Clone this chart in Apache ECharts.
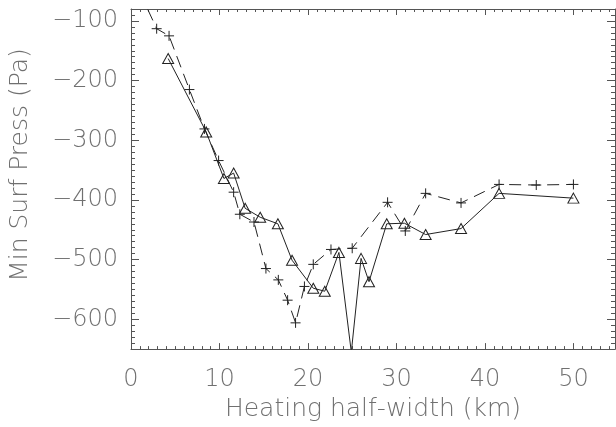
<!DOCTYPE html>
<html><head><meta charset="utf-8">
<script src="https://cdn.jsdelivr.net/npm/echarts@6/dist/echarts.min.js"></script>
<style>html,body{margin:0;padding:0;background:#fff}#c{width:616px;height:427px}</style>
</head><body><div id="c"></div>
<script>
// ---- data ----
const xTickLabels = [0, 10, 20, 30, 40, 50];
const yTickLabels = [-600, -500, -400, -300, -200, -100];

// solid line with triangles
const solidX = [4.2, 8.5, 10.5, 11.6, 12.9, 14.6, 16.6, 18.2, 20.6, 21.9, 23.5, 24.9, 26.0, 26.9, 28.9, 30.9, 33.3, 37.3, 41.6, 50.0];
const solidY = [-163, -286, -364, -355, -414, -429, -440, -501, -548, -553, -488, -655, -498, -537, -440, -439, -458, -448, -389, -397];

// dashed line with plus signs
const dashedX = [1.0, 2.9, 4.3, 6.6, 8.3, 9.9, 11.6, 12.3, 13.9, 15.25, 16.65, 17.7, 18.6, 19.6, 20.6, 22.6, 25.0, 29.0, 31.0, 33.3, 37.3, 41.6, 45.8, 50.0];
const dashedY = [-52, -113, -125, -215, -281, -334, -387, -424, -437, -515, -534, -568, -606, -545, -508, -483, -481, -404, -452, -389, -405, -374, -375, -374];

const xName = 'Heating half-width (km)';
const yName = 'Min Surf Press (Pa)';

// ---- style ----
const X_MIN = 0, X_MAX = 54.7, Y_MIN = -650, Y_MAX = -80;
const FONT = 'DejaVu Sans';
const LABEL_COLOR = '#707070';
const AXIS_COLOR = '#555555';
const INK = '#222222';

function fmt(v) { return String(v).replace('-', '\u2212'); }
function pairs(xs, ys) {
  return xs.map((x, i) => {
    const y = ys[i];
    const outside = y < Y_MIN || y > Y_MAX;
    return outside ? { value: [x, y], symbol: 'none' } : [x, y];
  });
}

function xAxisDef(pos, major) {
  return {
    type: 'value', position: pos, min: X_MIN, max: X_MAX,
    interval: major ? 10 : 1,
    axisLine: { show: major, onZero: false, lineStyle: { color: AXIS_COLOR, width: 1 } },
    axisTick: major
      ? { show: true, inside: true, length: 6, customValues: xTickLabels, lineStyle: { color: AXIS_COLOR, width: 1 } }
      : { show: true, inside: true, length: 3, lineStyle: { color: AXIS_COLOR, width: 1 } },
    axisLabel: (major && pos === 'bottom')
      ? { show: true, customValues: xTickLabels, margin: 19, fontFamily: FONT, fontWeight: 200, fontSize: 24, color: LABEL_COLOR, formatter: fmt }
      : { show: false },
    splitLine: { show: false }
  };
}
function yAxisDef(pos, major) {
  return {
    type: 'value', position: pos, min: Y_MIN, max: Y_MAX,
    interval: major ? undefined : 10,
    axisLine: { show: major, onZero: false, lineStyle: { color: AXIS_COLOR, width: 1 } },
    axisTick: major
      ? { show: true, inside: true, length: 8, customValues: yTickLabels, lineStyle: { color: AXIS_COLOR, width: 1 } }
      : { show: true, inside: true, length: 4, lineStyle: { color: AXIS_COLOR, width: 1 } },
    axisLabel: (major && pos === 'left')
      ? { show: true, customValues: yTickLabels, margin: 13, fontFamily: FONT, fontWeight: 200, fontSize: 24, color: LABEL_COLOR, formatter: fmt }
      : { show: false },
    splitLine: { show: false }
  };
}

const xAxes = [xAxisDef('bottom', true), xAxisDef('bottom', false), xAxisDef('top', true), xAxisDef('top', false)];
const yAxes = [yAxisDef('left', true), yAxisDef('left', false), yAxisDef('right', true), yAxisDef('right', false)];

xAxes[0].name = xName;
xAxes[0].nameLocation = 'middle';
xAxes[0].nameGap = 42;
xAxes[0].nameTextStyle = { fontFamily: FONT, fontWeight: 200, fontSize: 25, color: LABEL_COLOR };

yAxes[0].name = yName;
yAxes[0].nameLocation = 'middle';
yAxes[0].nameGap = 98;
yAxes[0].nameTextStyle = { fontFamily: FONT, fontWeight: 200, fontSize: 25, color: LABEL_COLOR, padding: [0, 0, 0, 28] };

const chart = echarts.init(document.getElementById('c'), null, { renderer: 'canvas' });
chart.setOption({
  animation: false,
  backgroundColor: '#ffffff',
  grid: { left: 131, right: 1, top: 9, bottom: 73, containLabel: false },
  xAxis: xAxes,
  yAxis: yAxes,
  series: [
    {
      type: 'line', xAxisIndex: 0, yAxisIndex: 0, clip: true, silent: true,
      data: pairs(solidX, solidY),
      symbol: 'path://M5,0L10,8.66L0,8.66Z', symbolSize: [11, 10],
      lineStyle: { color: INK, width: 1, type: 'solid' },
      itemStyle: { color: 'rgba(0,0,0,0)', borderColor: INK, borderWidth: 1 },
      emphasis: { disabled: true }
    },
    {
      type: 'line', xAxisIndex: 0, yAxisIndex: 0, clip: true, silent: true,
      data: pairs(dashedX, dashedY),
      symbol: 'path://M0,5L10,5M5,0L5,10', symbolSize: 10,
      lineStyle: { color: INK, width: 1, type: [12, 7] },
      itemStyle: { color: 'rgba(0,0,0,0)', borderColor: INK, borderWidth: 1 },
      emphasis: { disabled: true }
    }
  ]
});
</script></body></html>
